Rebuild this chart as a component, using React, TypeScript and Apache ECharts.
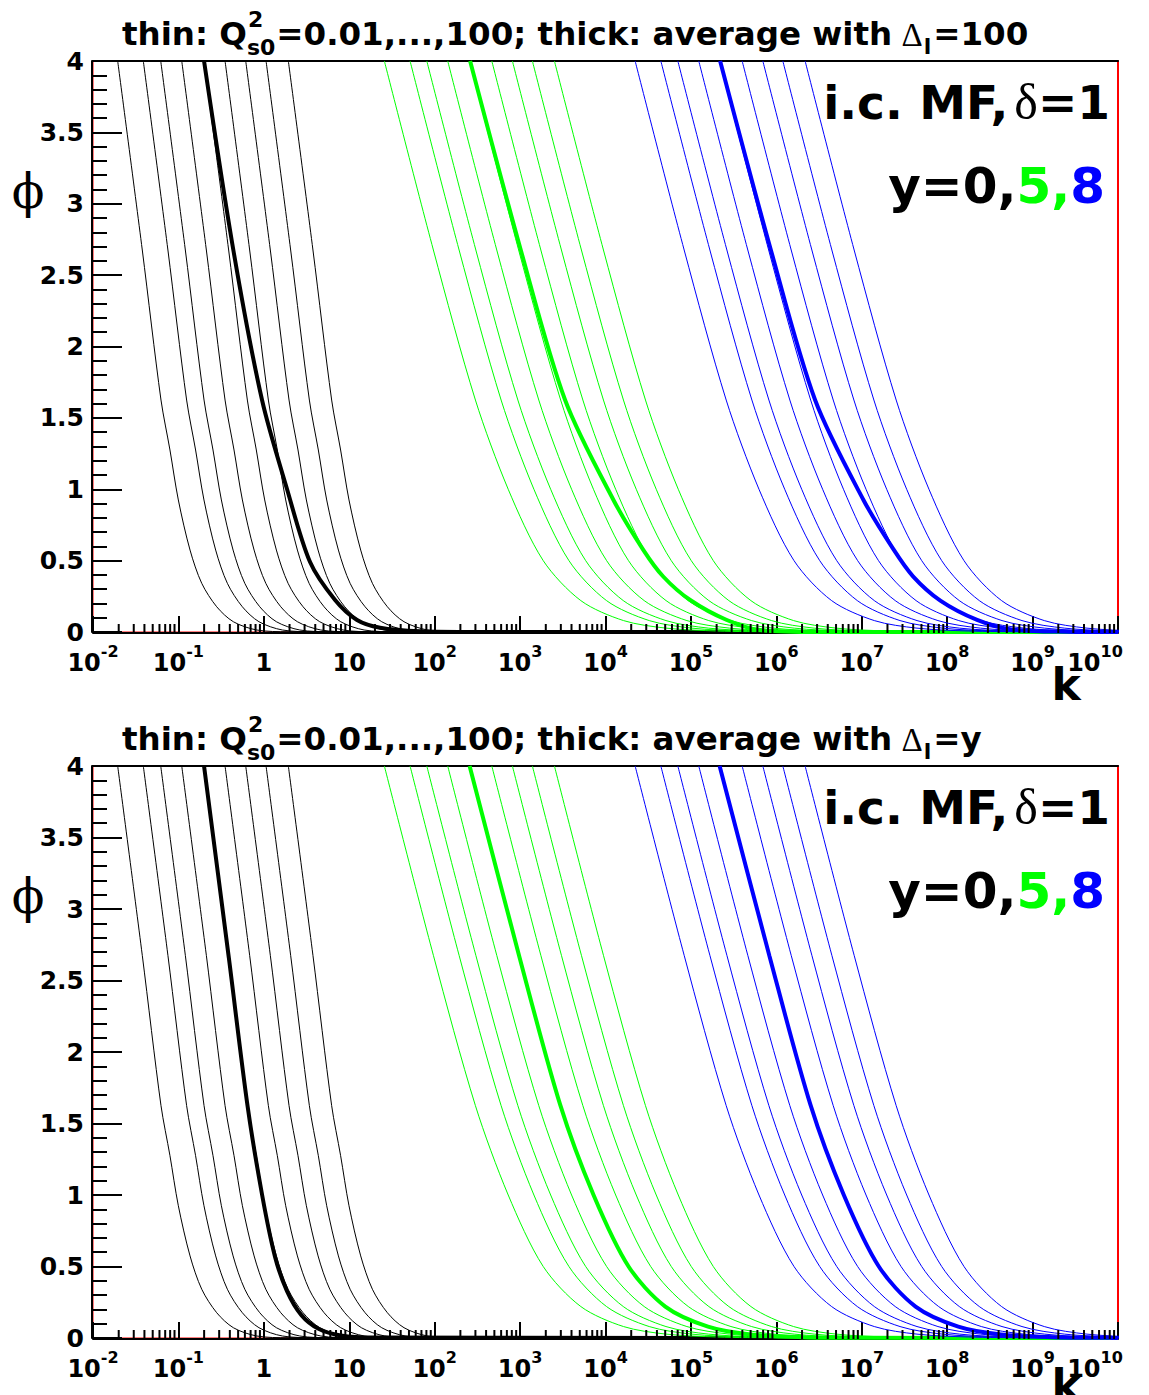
import React, { useEffect, useRef } from "react";
import * as echarts from "echarts";

// ---------------- data ----------------
// x values are log10(k); y values are phi.
// Positions (log10 k) where each thin curve leaves the top of the frame (phi = 4),
// one per Q_s0^2 = 0.01 ... 100.
const thinStartsY0 = [-1.711, -1.411, -1.207, -0.961, -0.7, -0.454, -0.212, 0.026, 0.287];
const thinStartsY5 = [1.411, 1.712, 1.908, 2.153, 2.409, 2.669, 2.91, 3.144, 3.402];
const thinStartsY8 = [4.347, 4.648, 4.847, 5.092, 5.336, 5.6, 5.842, 6.076, 6.337];

// Profile of a thin curve: [log10 k measured from its phi=4 point, phi]
const thinProfileY0 = [
  [0, 4], [0.288, 2.676], [0.507, 1.625], [0.612, 1.275], [0.71, 0.925], [0.847, 0.574],
  [0.984, 0.341], [1.159, 0.177], [1.354, 0.072], [1.628, 0.014], [2.0, 0.002],
];
const thinProfileY5 = [
  [0, 4], [0.574, 2.676], [1.066, 1.625], [1.45, 1.0], [1.86, 0.5], [2.3, 0.22],
  [2.8, 0.08], [3.3, 0.027], [3.9, 0.007], [4.6, 0.001],
];
const thinProfileY8 = [
  [0, 4], [0.574, 2.676], [1.066, 1.625], [1.45, 1.0], [1.86, 0.5], [2.3, 0.22],
  [2.8, 0.08], [3.3, 0.027], [3.9, 0.007], [4.6, 0.001],
];

// Thick curves, upper panel (average with Delta_l = 100): [log10 k, phi]
const thickTopY0 = [
  [-0.7, 4], [-0.357, 2.676], [-0.021, 1.625], [0.272, 1.0], [0.541, 0.49], [0.834, 0.224],
  [1.091, 0.084], [1.361, 0.03], [1.829, 0.005], [2.5, 0.0],
];
const thickTopY5 = [
  [2.415, 4], [3.008, 2.676], [3.527, 1.625], [4.093, 0.925], [4.444, 0.574], [4.678, 0.387],
  [4.991, 0.224], [5.42, 0.084], [5.81, 0.014], [6.5, 0.0],
];
const thickTopY8 = [
  [5.342, 4], [5.936, 2.676], [6.454, 1.625], [7.02, 0.925], [7.37, 0.58], [7.6, 0.39],
  [7.92, 0.22], [8.35, 0.085], [8.75, 0.018], [9.4, 0.002],
];
// Thick curves, lower panel (average with Delta_l = y)
const thickBotY0 = [
  [-0.7, 4], [-0.41, 2.66], [-0.19, 1.62], [-0.02, 1.0], [0.13, 0.57], [0.27, 0.33],
  [0.44, 0.16], [0.64, 0.065], [0.9, 0.018], [1.3, 0.003],
];
const thickBotY5 = [
  [2.409, 4], [2.99, 2.67], [3.47, 1.63], [3.86, 1.0], [4.27, 0.5], [4.7, 0.22],
  [5.2, 0.08], [5.7, 0.025], [6.3, 0.006], [7.0, 0.001],
];
const thickBotY8 = [
  [5.336, 4], [5.92, 2.67], [6.4, 1.63], [6.79, 1.0], [7.2, 0.5], [7.63, 0.22],
  [8.13, 0.08], [8.63, 0.025], [9.23, 0.006], [9.9, 0.001],
];

const titleTails = ["100", "y"];
const yLabelParts = [
  { text: "y=0,", color: "#000000" },
  { text: "5,", color: "#00ff00" },
  { text: "8", color: "#0000ff" },
];

// ---------------- layout / style ----------------
const W = 1149;
const H = 1395;
const X_MIN = -2;
const X_MAX = 10;
const SANS = '"DejaVu Sans"';
const SERIF = '"Liberation Serif"';
const DSERIF = '"DejaVu Serif"';
const COLORS = ["#000000", "#00ff00", "#0000ff"];
const PANELS = [
  { top: 61, height: 571, dy: 0 },
  { top: 766, height: 572, dy: 705 },
];

const MINOR_TICKS: number[] = [];
for (let d = X_MIN; d < X_MAX; d++) {
  for (let m = 2; m <= 9; m++) MINOR_TICKS.push(Math.log10(m) + d);
}

function shifted(start: number, profile: number[][]) {
  const pts = profile.map(([dx, p]) => [start + dx, p]);
  pts.push([X_MAX, 0]);
  return pts;
}
function withTail(curve: number[][]) {
  return curve.concat([[X_MAX, 0]]);
}

const ctx = typeof document !== "undefined" ? document.createElement("canvas").getContext("2d") : null;
function tw(text: string, size: number, weight: string, family: string) {
  if (!ctx) return text.length * size * 0.6;
  ctx.font = `${weight} ${size}px ${family}`;
  return ctx.measureText(text).width;
}

function textEl(text: string, x: number, y: number, size: number, weight: string, family: string, align = "left", extra: any = {}) {
  return {
    type: "text",
    x,
    y,
    silent: true,
    z: 100,
    ...extra,
    style: {
      text,
      fontSize: size,
      fontWeight: weight,
      fontFamily: family,
      fill: "#000",
      align,
      verticalAlign: "middle",
    },
  };
}

function titleElements(dy: number, tail: string) {
  const main = 32.5;
  const small = 22;
  const els: any[] = [];
  const yc = 34 + dy;
  let x = 122;
  const p1 = "thin: Q";
  els.push(textEl(p1, x, yc, main, "bold", SANS));
  x += tw(p1, main, "bold", SANS);
  els.push(textEl("2", x + 1, yc - 15, small, "bold", SANS));
  els.push(textEl("s0", x, yc + 13, small, "bold", SANS));
  x += Math.max(tw("2", small, "bold", SANS), tw("s0", small, "bold", SANS)) + 1;
  const p3 = "=0.01,...,100; thick: average with ";
  els.push(textEl(p3, x, yc, main, "bold", SANS));
  x += tw(p3, main, "bold", SANS) - 2;
  els.push(textEl("Δ", x, yc + 1, 33, "normal", SERIF));
  x += tw("Δ", 33, "normal", SERIF);
  els.push(textEl("l", x + 1, yc + 12, small, "bold", SANS));
  x += tw("l", small, "bold", SANS) + 3;
  els.push(textEl("=" + tail, x, yc, main, "bold", SANS));
  return els;
}

function panelTexts(dy: number, last: boolean) {
  return [
    {
      type: "text",
      x: 1110,
      y: 102 + dy,
      silent: true,
      z: 100,
      style: {
        text: "{a|i.c. MF,}{d|δ}{a|=1}",
        align: "right",
        verticalAlign: "middle",
        fill: "#000",
        rich: {
          a: { fontSize: 47, fontWeight: "bold", fontFamily: SANS, fill: "#000" },
          d: { fontSize: 50, fontWeight: "normal", fontFamily: SERIF, fill: "#000", padding: [0, 0, 0, 6] },
        },
      },
    },
    {
      type: "text",
      x: 1105,
      y: 186 + dy,
      silent: true,
      z: 100,
      style: {
        text: yLabelParts.map((p, i) => `{c${i}|${p.text}}`).join(""),
        align: "right",
        verticalAlign: "middle",
        rich: Object.fromEntries(
          yLabelParts.map((p, i) => [
            `c${i}`,
            { fontSize: 50, fontWeight: "bold", fontFamily: SANS, fill: p.color },
          ])
        ),
      },
    },
    textEl("ϕ", 28, 191 + dy, 48, "normal", DSERIF, "center"),
    textEl("k", 1066, (last ? 680 : 684) + dy, 44, "bold", SANS, "center"),
  ];
}

function xLabel(v: number) {
  const n = Math.round(v);
  if (n === 0) return "{b|1}";
  if (n === 1) return "{b|10}";
  if (n === X_MAX) return `{b|10}{e|${n}}`;
  return `{b|10}{s|${n}}`;
}

function buildOption() {
  const grid: any[] = [];
  const xAxis: any[] = [];
  const yAxis: any[] = [];
  const series: any[] = [];
  const graphic: any[] = [];

  PANELS.forEach((pn, i) => {
    grid.push({
      left: 93,
      top: pn.top,
      width: 1025,
      height: pn.height,
      show: true,
      borderColor: "#ff0000",
      borderWidth: 1,
      backgroundColor: "transparent",
      containLabel: false,
      outerBoundsMode: "none",
    });
    // bottom k axis (log10 k)
    xAxis.push({
      type: "value",
      gridIndex: i,
      min: X_MIN,
      max: X_MAX,
      interval: 1,
      position: "bottom",
      offset: 1,
      axisLine: { show: true, onZero: false, lineStyle: { color: "#000", width: 2 } },
      axisTick: { show: true, inside: true, length: 17, lineStyle: { color: "#000", width: 2 } },
      axisLabel: {
        show: true,
        margin: 9,
        showMinLabel: true,
        showMaxLabel: true,
        hideOverlap: false,
        formatter: xLabel,
        rich: {
          b: { fontSize: 24, fontWeight: "bold", fontFamily: SANS, color: "#000", lineHeight: 33, verticalAlign: "bottom" },
          s: { fontSize: 16, fontWeight: "bold", fontFamily: SANS, color: "#000", lineHeight: 18, verticalAlign: "bottom", padding: [0, 0, 16, 0] },
          e: { fontSize: 16, fontWeight: "bold", fontFamily: SANS, color: "#000", lineHeight: 18, verticalAlign: "bottom", padding: [0, 46, 16, 0] },
        },
      },
      splitLine: { show: false },
    });
    // top frame line
    xAxis.push({
      type: "value",
      gridIndex: i,
      min: X_MIN,
      max: X_MAX,
      position: "top",
      axisLine: { show: true, onZero: false, lineStyle: { color: "#000", width: 2 } },
      axisTick: { show: false },
      axisLabel: { show: false },
      splitLine: { show: false },
    });
    yAxis.push({
      type: "value",
      gridIndex: i,
      min: 0,
      max: 4,
      interval: 0.5,
      position: "left",
      offset: 1,
      axisLine: { show: true, onZero: false, lineStyle: { color: "#000", width: 2 } },
      axisTick: { show: true, inside: true, length: 30, lineStyle: { color: "#000", width: 2 } },
      minorTick: { show: true, splitNumber: 5, length: 15, lineStyle: { color: "#000", width: 2 } },
      axisLabel: {
        show: true,
        margin: 8,
        fontSize: 25,
        fontWeight: "bold",
        fontFamily: SANS,
        color: "#000",
        formatter: (v: number) => String(v),
      },
      splitLine: { show: false },
      minorSplitLine: { show: false },
    });
    yAxis.push({
      type: "value",
      gridIndex: i,
      min: 0,
      max: 4,
      position: "right",
      axisLine: { show: true, onZero: false, lineStyle: { color: "#ff0000", width: 2 } },
      axisTick: { show: false },
      axisLabel: { show: false },
      splitLine: { show: false },
    });

    const xi = i * 2;
    const yi = i * 2;
    const groups = [
      { starts: thinStartsY0, profile: thinProfileY0, thick: i === 0 ? thickTopY0 : thickBotY0 },
      { starts: thinStartsY5, profile: thinProfileY5, thick: i === 0 ? thickTopY5 : thickBotY5 },
      { starts: thinStartsY8, profile: thinProfileY8, thick: i === 0 ? thickTopY8 : thickBotY8 },
    ];
    groups.forEach((g, gi) => {
      g.starts.forEach((s) => {
        series.push({
          type: "line",
          xAxisIndex: xi,
          yAxisIndex: yi,
          data: shifted(s, g.profile),
          showSymbol: false,
          symbol: "none",
          smooth: 0.3,
          silent: true,
          lineStyle: { color: COLORS[gi], width: 1 },
          z: 2,
        });
      });
      series.push({
        type: "line",
        xAxisIndex: xi,
        yAxisIndex: yi,
        data: withTail(g.thick),
        showSymbol: false,
        symbol: "none",
        smooth: 0.3,
        silent: true,
        lineStyle: { color: COLORS[gi], width: 4 },
        z: 2,
      });
    });
    // minor ticks of the log k axis
    series.push({
      type: "custom",
      xAxisIndex: xi,
      yAxisIndex: yi,
      silent: true,
      clip: false,
      z: 5,
      data: MINOR_TICKS.map((v) => [v, 0]),
      encode: { x: 0, y: 1 },
      renderItem: (params: any, api: any) => {
        const p = api.coord([api.value(0), 0]);
        return {
          type: "line",
          shape: { x1: p[0], y1: p[1] + 1, x2: p[0], y2: p[1] - 8 },
          style: { stroke: "#000", lineWidth: 2 },
        };
      },
    });

    graphic.push(...titleElements(pn.dy, titleTails[i]));
    graphic.push(...panelTexts(pn.dy, i === 1));
  });

  return {
    animation: false,
    backgroundColor: "#ffffff",
    grid,
    xAxis,
    yAxis,
    series,
    graphic,
  };
}

export default function App() {
  const ref = useRef<HTMLDivElement>(null);
  useEffect(() => {
    if (!ref.current) return;
    const chart = echarts.init(ref.current, null, { renderer: "svg", width: W, height: H });
    chart.setOption(buildOption() as any);
    return () => chart.dispose();
  }, []);
  return (
    <div
      ref={ref}
      style={{ position: "absolute", left: 0, top: 0, width: W, height: H, background: "#fff" }}
    />
  );
}
